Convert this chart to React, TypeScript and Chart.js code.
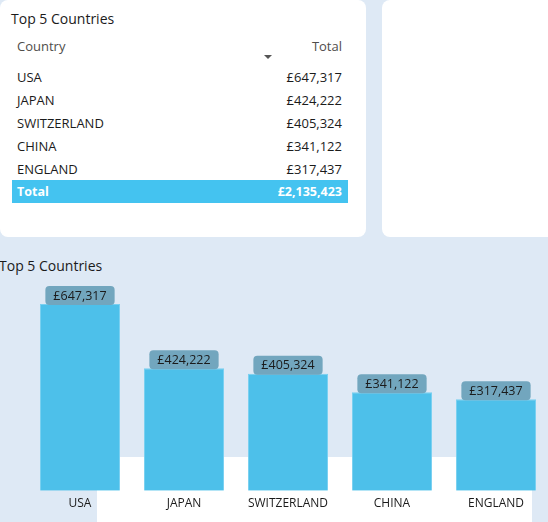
import React, { useEffect, useRef } from "react";
import { Chart, registerables } from "chart.js";

Chart.register(...registerables);

const categories = ["USA", "JAPAN", "SWITZERLAND", "CHINA", "ENGLAND"];
const totals = [647317, 424222, 405324, 341122, 317437];
const grandTotalLabel = "£2,135,423";
const tableTitle = "Top 5 Countries";
const chartTitle = "Top 5 Countries";

const FONT = "'Segoe UI', 'Open Sans', sans-serif";
const fmt = (v: number) => "£" + v.toLocaleString("en-GB");

const labelPlugin = {
  id: "boxLabels",
  afterDatasetsDraw(chart: any) {
    const ctx = chart.ctx;
    const meta = chart.getDatasetMeta(0);
    ctx.save();
    ctx.font = `12.5px ${FONT}`;
    meta.data.forEach((bar: any, i: number) => {
      const text = fmt(totals[i]);
      const tw = ctx.measureText(text).width;
      const w = tw + 16;
      const h = 19;
      const bottom = bar.y + 1;
      const x0 = bar.x - w / 2;
      const y0 = bottom - h;
      ctx.fillStyle = "#72a6be";
      ctx.beginPath();
      ctx.roundRect(x0, y0, w, h, 4);
      ctx.fill();
      ctx.fillStyle = "#1b1b1b";
      ctx.textAlign = "center";
      ctx.textBaseline = "middle";
      ctx.fillText(text, bar.x, y0 + h / 2 + 0.5);
    });
    ctx.restore();
  },
};

function BarChart() {
  const ref = useRef<HTMLCanvasElement>(null);
  useEffect(() => {
    const chart = new Chart(ref.current!, {
      type: "bar",
      data: {
        labels: categories,
        datasets: [
          {
            data: totals,
            backgroundColor: "#4dc0ea",
            borderColor: "#78cff0",
            borderWidth: 1,
            barPercentage: 0.77,
            categoryPercentage: 1,
          },
        ],
      },
      options: {
        responsive: false,
        animation: false,
        devicePixelRatio: 1,
        layout: { padding: { top: 48.8, left: 28, right: 0, bottom: 0 } },
        plugins: { legend: { display: false }, tooltip: { enabled: false } },
        scales: {
          x: {
            grid: { display: false, drawTicks: false },
            border: { display: false },
            ticks: {
              padding: 6,
              color: "#1b1b1b",
              font: { size: 12, family: FONT },
              maxRotation: 0,
              autoSkip: false,
            },
            afterFit: (s: any) => {
              s.height = 31.3;
            },
          },
          y: { display: false, min: 0, max: 700000 },
        },
      },
      plugins: [labelPlugin],
    });
    return () => chart.destroy();
  }, []);
  return (
    <canvas
      ref={ref}
      width={548}
      height={282}
      style={{ position: "absolute", left: 0, top: 240, width: 548, height: 282 }}
    />
  );
}

export default function App() {
  const rowTops = [77, 100, 123, 146, 169];
  const txt: React.CSSProperties = {
    position: "absolute",
    fontSize: 13,
    lineHeight: "16px",
    color: "#1b1b1b",
    whiteSpace: "nowrap",
  };
  return (
    <div
      style={{
        position: "fixed",
        left: 0,
        top: 0,
        width: 548,
        height: 522,
        overflow: "hidden",
        background: "#dee9f5",
        fontFamily: FONT,
      }}
    >
      {/* white strip behind chart bottom */}
      <div style={{ position: "absolute", left: 97, top: 457, width: 435, height: 65, background: "#ffffff" }} />
      {/* card 1 */}
      <div style={{ position: "absolute", left: 0, top: 0, width: 366, height: 237, background: "#ffffff", borderRadius: 8 }}>
        <div style={{ ...txt, left: 11, top: 9, fontSize: 14, lineHeight: "20px" }}>{tableTitle}</div>
        <div style={{ ...txt, left: 17, top: 38, color: "#4f4d4b" }}>Country</div>
        <div style={{ ...txt, right: 366 - 342, top: 38, color: "#4f4d4b" }}>Total</div>
        <div
          style={{
            position: "absolute",
            left: 264,
            top: 55,
            width: 0,
            height: 0,
            borderLeft: "4px solid transparent",
            borderRight: "4px solid transparent",
            borderTop: "4px solid #555555",
          }}
        />
        {categories.map((c, i) => (
          <React.Fragment key={c}>
            <div style={{ ...txt, left: 17, top: rowTops[i] - 8 }}>{c}</div>
            <div style={{ ...txt, right: 366 - 342, top: rowTops[i] - 8 }}>{fmt(totals[i])}</div>
          </React.Fragment>
        ))}
        <div style={{ position: "absolute", left: 12, top: 180, width: 336, height: 23, background: "#44c3f0" }} />
        <div style={{ ...txt, left: 17, top: 184, color: "#ffffff", fontWeight: 700, fontSize: 12.5 }}>Total</div>
        <div style={{ ...txt, right: 366 - 342, top: 184, color: "#ffffff", fontWeight: 700, fontSize: 12.5 }}>{grandTotalLabel}</div>
      </div>
      {/* card 2 */}
      <div style={{ position: "absolute", left: 382, top: 0, width: 180, height: 237, background: "#ffffff", borderRadius: 8 }} />
      {/* chart title */}
      <div style={{ ...txt, left: -1, top: 256, fontSize: 14, lineHeight: "20px" }}>{chartTitle}</div>
      <BarChart />
    </div>
  );
}
